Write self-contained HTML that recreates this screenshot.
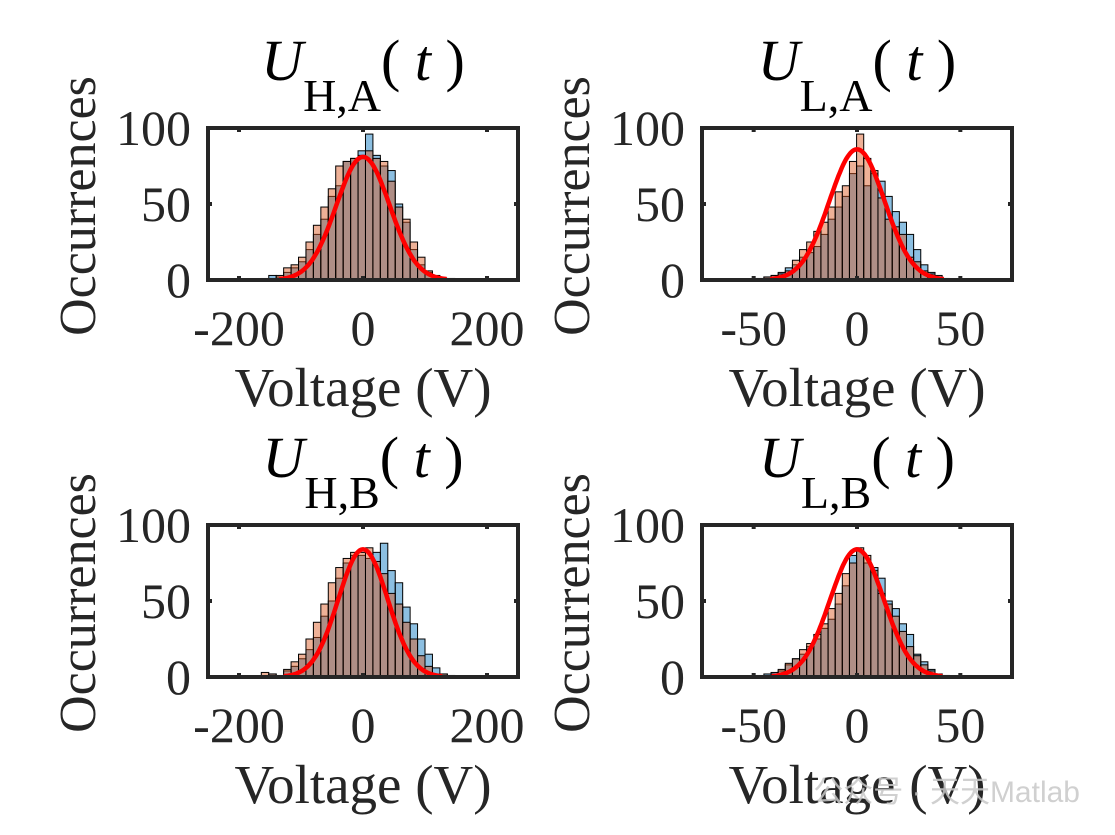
<!DOCTYPE html>
<html><head><meta charset="utf-8">
<style>
html,body{margin:0;padding:0;background:#fff;}
svg{display:block;font-family:"Liberation Serif","Noto Serif CJK SC",serif;}
</style></head>
<body>
<svg id="fig" width="1115" height="835" viewBox="0 0 1115 835" xmlns="http://www.w3.org/2000/svg">
<rect width="1115" height="835" fill="#fff"/>
<text x="1080" y="802" text-anchor="end" font-family="Liberation Sans, Noto Sans CJK SC, sans-serif" font-size="30" fill="#c8c8c8" opacity="0.85">公众号 · 天天Matlab</text>
</svg>
<script>
// ---- data ----
const titlesMain = ["U","U","U","U"];
const titlesSub = ["H,A","L,A","H,B","L,B"];
const xTicksWide = [-200, 0, 200];
const xTicksNarrow = [-50, 0, 50];
const yTicks = [0, 50, 100];
const binStartWide = -164, binWidthWide = 12;
const binStartNarrow = -48.5, binWidthNarrow = 3.45;
const blueHA = [1,3,2,5,8,12,20,30,40,55,62,78,80,85,96,82,75,72,50,38,20,10,5,2,1,1];
const orangeHA = [0,1,3,8,10,15,25,36,48,60,75,78,80,82,85,80,78,65,48,40,25,15,6,3,1,1];
const blueLA = [1,2,3,5,8,10,15,18,22,30,40,48,55,70,75,62,70,65,55,45,38,30,20,10,5,3,1];
const orangeLA = [1,2,3,4,6,13,20,25,32,38,48,58,62,78,96,80,72,54,40,35,30,15,12,6,4,2,1];
const blueHB = [0,2,0,4,7,12,18,26,40,50,65,75,80,80,78,82,88,70,62,46,35,25,15,6,2,1];
const orangeHB = [3,2,1,5,10,15,25,36,48,62,72,78,82,82,85,76,68,55,48,36,25,14,7,2,2,1];
const blueLB = [1,2,3,4,8,12,15,20,25,32,38,48,60,80,83,75,72,65,50,45,35,28,15,10,5,2,1];
const orangeLB = [0,1,2,5,9,12,18,22,28,35,45,55,68,75,85,80,70,55,48,40,30,20,14,8,4,2,1];
const fitPeak = [81, 86, 84, 84];
const fitSigma = [43, 13.3, 40, 13];
const panels = [
 {x0:208,x1:518,y0:128,y1:280,xmin:-250,xmax:250,ticks:xTicksWide,bs:binStartWide,bw:binWidthWide,b:blueHA,o:orangeHA},
 {x0:702,x1:1012,y0:128,y1:280,xmin:-75,xmax:75,ticks:xTicksNarrow,bs:binStartNarrow,bw:binWidthNarrow,b:blueLA,o:orangeLA},
 {x0:208,x1:518,y0:525,y1:677,xmin:-250,xmax:250,ticks:xTicksWide,bs:binStartWide,bw:binWidthWide,b:blueHB,o:orangeHB},
 {x0:702,x1:1012,y0:525,y1:677,xmin:-75,xmax:75,ticks:xTicksNarrow,bs:binStartNarrow,bw:binWidthNarrow,b:blueLB,o:orangeLB}
];
const NS="http://www.w3.org/2000/svg";
const svg=document.getElementById('fig');
const wm=svg.lastElementChild;
function mk(tag,attrs,parent){const e=document.createElementNS(NS,tag);for(const k in attrs)e.setAttribute(k,attrs[k]);(parent||svg).insertBefore(e,parent?null:wm);return e;}
panels.forEach((p,i)=>{
  const g=mk('g',{});
  
  
  const sx=v=>p.x0+(v-p.xmin)/(p.xmax-p.xmin)*(p.x1-p.x0);
  const sy=v=>p.y1-(v/100)*(p.y1-p.y0);
  const drawBars=(arr,color,name)=>{
    arr.forEach((c,j)=>{
      if(c<=0)return;
      const a=p.bs+j*p.bw, b=a+p.bw;
      const r=mk('rect',{x:sx(a),y:sy(c),width:sx(b)-sx(a),height:sy(0)-sy(c),fill:color,'fill-opacity':0.45,stroke:'#000','stroke-width':1},g);
      
      
    });
  };
  drawBars(p.b,'rgb(0,114,189)','blue');
  drawBars(p.o,'rgb(217,83,25)','orange');
  let d='';
  for(let k=0;k<=200;k++){
    const v=p.xmin+(p.xmax-p.xmin)*k/200;
    const yv=fitPeak[i]*Math.exp(-v*v/(2*fitSigma[i]*fitSigma[i]));
    if(yv<0.5){continue;}
    d+=(d?'L':'M')+sx(v).toFixed(1)+','+sy(yv).toFixed(1);
  }
  const fc=mk('path',{d:d,fill:'none',stroke:'#ff0000','stroke-width':4.5,'stroke-linejoin':'round'},g);
  
  
  const bx=mk('rect',{x:p.x0,y:p.y0,width:p.x1-p.x0,height:p.y1-p.y0,fill:'none',stroke:'#262626','stroke-width':4},g);
  
  
  p.ticks.forEach(t=>{
    const x=sx(t);
    mk('line',{x1:x,x2:x,y1:p.y1,y2:p.y1-4,stroke:'#262626','stroke-width':4},g);
    mk('line',{x1:x,x2:x,y1:p.y0,y2:p.y0+4,stroke:'#262626','stroke-width':4},g);
    const tl=mk('text',{x:x,y:p.y1+65,'text-anchor':'middle','font-size':50,fill:'#262626'},g);
    tl.textContent=String(t);
    
    
  });
  yTicks.forEach(t=>{
    const y=sy(t);
    mk('line',{x1:p.x0,x2:p.x0+4,y1:y,y2:y,stroke:'#262626','stroke-width':4},g);
    mk('line',{x1:p.x1,x2:p.x1-4,y1:y,y2:y,stroke:'#262626','stroke-width':4},g);
    const tl=mk('text',{x:p.x0-17,y:y+17,'text-anchor':'end','font-size':50,fill:'#262626'},g);
    tl.textContent=t;
    
    
  });
  const cx=(p.x0+p.x1)/2;
  const xl=mk('text',{x:cx,y:p.y1+126,'text-anchor':'middle','font-size':55,fill:'#262626'},g);
  xl.textContent='Voltage (V)';
  
  
  const cy=(p.y0+p.y1)/2+2;
  const yl=mk('text',{x:0,y:0,transform:'translate('+(p.x0-113)+','+cy+') rotate(-90)','text-anchor':'middle','font-size':52,fill:'#262626'},g);
  yl.textContent='Occurrences';
  
  
  const tt=mk('text',{x:cx,y:p.y0-48,'text-anchor':'middle',fill:'#000'},g);
  
  
  const s1=mk('tspan',{'font-size':58,'font-style':'italic'},tt);s1.textContent=titlesMain[i];
  const s2=mk('tspan',{'font-size':46,dy:31},tt);s2.textContent=titlesSub[i];
  const s3=mk('tspan',{'font-size':58,dy:-31},tt);s3.textContent='(';
  const s4=mk('tspan',{'font-size':58,'font-style':'italic'},tt);s4.textContent=' t ';
  const s5=mk('tspan',{'font-size':58},tt);s5.textContent=')';
});
</script>
</body></html>
